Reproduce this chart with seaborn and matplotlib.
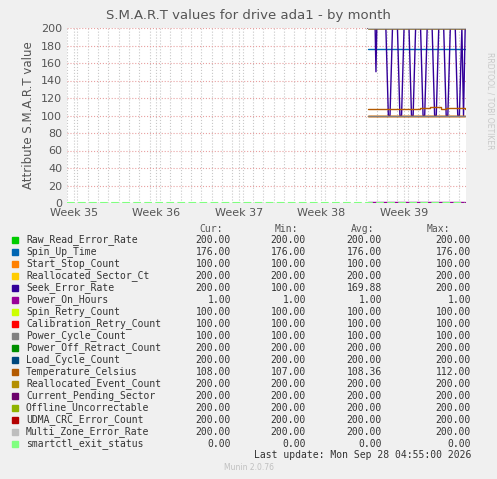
import matplotlib
matplotlib.use("Agg")
import matplotlib.pyplot as plt
import seaborn as sns

names = ["Raw_Read_Error_Rate", "Spin_Up_Time", "Start_Stop_Count", "Reallocated_Sector_Ct",
         "Seek_Error_Rate", "Power_On_Hours", "Spin_Retry_Count", "Calibration_Retry_Count",
         "Power_Cycle_Count", "Power_Off_Retract_Count", "Load_Cycle_Count", "Temperature_Celsius",
         "Reallocated_Event_Count", "Current_Pending_Sector", "Offline_Uncorrectable",
         "UDMA_CRC_Error_Count", "Multi_Zone_Error_Rate", "smartctl_exit_status"]
colors = ["#00CC00", "#0066B3", "#FF8000", "#FFCC00", "#330099", "#990099", "#CCFF00", "#FF0000",
          "#808080", "#008F00", "#00487D", "#B35A00", "#B38F00", "#6B006B", "#8FB300", "#B30000",
          "#BEBEBE", "#80FF80"]
cur = [200, 176, 100, 200, 200, 1, 100, 100, 100, 200, 200, 108, 200, 200, 200, 200, 200, 0]
mn = [200, 176, 100, 200, 100, 1, 100, 100, 100, 200, 200, 107, 200, 200, 200, 200, 200, 0]
avg = [200, 176, 100, 200, 169.88, 1, 100, 100, 100, 200, 200, 108.36, 200, 200, 200, 200, 200, 0]
mx = [200, 176, 100, 200, 200, 1, 100, 100, 100, 200, 200, 112, 200, 200, 200, 200, 200, 0]

start, end = 38.56, 39.74
seek_x = [38.56, 38.65, 38.66, 38.67, 38.78, 38.81, 38.83, 38.86, 38.92, 38.95, 38.97, 39.00,
          39.06, 39.09, 39.11, 39.14, 39.20, 39.23, 39.25, 39.28, 39.34, 39.37, 39.39, 39.42,
          39.48, 39.51, 39.53, 39.56, 39.62, 39.65, 39.67, 39.70, 39.72, 39.74]
seek_y = [200, 200, 150, 200, 200, 100, 100, 200, 200, 100, 100, 200,
          200, 100, 100, 200, 200, 100, 100, 200, 200, 100, 100, 200,
          200, 100, 100, 200, 200, 100, 100, 200, 100, 200]
temp_x = [38.56, 38.62, 38.63, 38.70, 38.90, 38.91, 39.10, 39.18, 39.19, 39.30, 39.31, 39.45, 39.50, 39.51, 39.74]
temp_y = [108, 108, 107, 108, 108, 108, 108, 108, 109, 109, 110, 108, 108, 109, 108]

sns.set_style("white")
plt.rcParams["font.family"] = ["DejaVu Sans"]
fig = plt.figure(figsize=(4.97, 4.79), dpi=100, facecolor="#F0F0F0")
ax = fig.add_axes([67 / 497, 276 / 479, 399 / 497, 175 / 479])
ax.set_facecolor("white")

for i, name in enumerate(names):
    if name == "Seek_Error_Rate":
        sns.lineplot(x=seek_x, y=seek_y, ax=ax, color=colors[i], lw=1)
    elif name == "Temperature_Celsius":
        sns.lineplot(x=temp_x, y=temp_y, ax=ax, color=colors[i], lw=1, drawstyle="steps-post")
    elif name == "smartctl_exit_status":
        sns.lineplot(x=[34.92, end], y=[0, 0], ax=ax, color=colors[i], lw=1.5, ls="--")
    else:
        sns.lineplot(x=[start, end], y=[cur[i], cur[i]], ax=ax, color=colors[i], lw=1)

ax.set_xlim(34.92, 39.75)
ax.set_ylim(0, 200)
ax.set_yticks(range(0, 201, 20))
ax.set_xticks([35, 36, 37, 38, 39])
ax.set_xticklabels(["Week %d" % w for w in range(35, 40)])
ax.set_xticks([34.92 + k * 0.125 for k in range(39)], minor=True)
ax.grid(True, axis="y", color="#E8A0A0", ls=":", lw=0.8)
ax.grid(True, axis="x", which="both", color="#C8C8C8", ls=":", lw=0.8)
ax.tick_params(labelsize=8, colors="#555555", length=0)
for s in ax.spines.values():
    s.set_visible(False)
ax.axhline(0, color="#C0C0C0", lw=0.8, zorder=0)
ax.set_ylabel("Attribute S.M.A.R.T value", fontsize=8.5, color="#555555")
fig.text(0.5, 0.96, "S.M.A.R.T values for drive ada1 - by month", ha="center", fontsize=9.5, color="#555555")
fig.text(0.985, 0.79, "RRDTOOL / TOBI OETIKER", rotation=270, fontsize=5.5, color="#C8C8C8", ha="center", va="center")

mono = "DejaVu Sans Mono"
fs = 7
y0 = 1 - 229 / 479
dy = 12 / 479
cols = [(223, "Cur:"), (298, "Min:"), (374, "Avg:"), (450, "Max:")]
for x, h in cols:
    fig.text(x / 497, y0, h, family=mono, fontsize=fs, color="#555555", ha="right", va="center")
vals = [cur, mn, avg, mx]
xr = [231, 306, 382, 471]
for i, name in enumerate(names):
    y = 1 - 240 / 479 - i * dy
    fig.patches.append(plt.Rectangle((12 / 497, y - 3 / 479), 6 / 497, 6 / 479, color=colors[i],
                                     transform=fig.transFigure, figure=fig))
    fig.text(26 / 497, y, name, family=mono, fontsize=fs, color="#333333", va="center")
    for j in range(4):
        fig.text(xr[j] / 497, y, "%.2f" % vals[j][i], family=mono, fontsize=fs, color="#333333",
                 ha="right", va="center")
fig.text(471 / 497, 1 - 455 / 479, "Last update: Mon Sep 28 04:55:00 2026", family=mono, fontsize=fs,
         color="#333333", ha="right", va="center")
fig.text(0.5, 1 - 468 / 479, "Munin 2.0.76", fontsize=5.5, color="#C0C0C0", ha="center", va="center")

fig.savefig("out.png", dpi=100, facecolor=fig.get_facecolor())
